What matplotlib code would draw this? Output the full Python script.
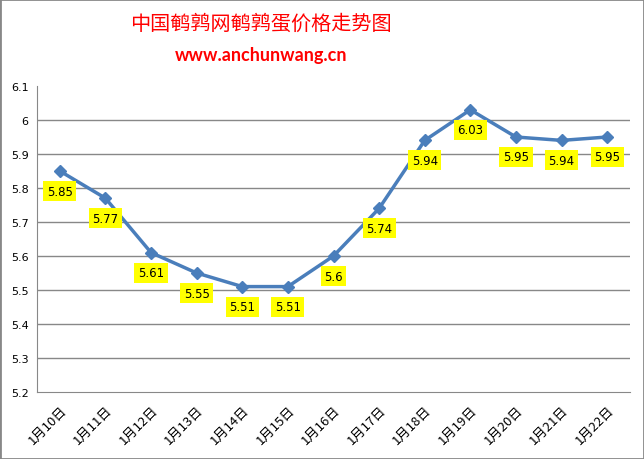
import matplotlib
matplotlib.use("Agg")
import matplotlib.pyplot as plt
from matplotlib.patches import Rectangle

plt.rcParams['font.family'] = ['Noto Sans CJK SC', 'DejaVu Sans']

dates = ["1月10日", "1月11日", "1月12日", "1月13日", "1月14日", "1月15日", "1月16日",
         "1月17日", "1月18日", "1月19日", "1月20日", "1月21日", "1月22日"]
prices = [5.85, 5.77, 5.61, 5.55, 5.51, 5.51, 5.6, 5.74, 5.94, 6.03, 5.95, 5.94, 5.95]
yticks = [5.2, 5.3, 5.4, 5.5, 5.6, 5.7, 5.8, 5.9, 6.0, 6.1]
ytick_labels = ["5.2", "5.3", "5.4", "5.5", "5.6", "5.7", "5.8", "5.9", "6", "6.1"]

fig = plt.figure(figsize=(6.44, 4.6), dpi=100)
fig.patches.append(Rectangle((0, 0), 1, 1, transform=fig.transFigure, fill=False,
                             edgecolor='#888888', linewidth=2))
ax = fig.add_axes([37/644, 1 - 393/460, (630-37)/644, (393-87)/460])

x = list(range(len(dates)))
ax.plot(x, prices, color='#4a7ebb', linewidth=2.5, marker='D', markersize=6, zorder=3)
for xi, p in zip(x, prices):
    ax.annotate(f"{p:g}", (xi, p), xytext=(0, -20), textcoords='offset pixels',
                ha='center', va='center', fontsize=8.5, family=['DejaVu Sans'],
                bbox=dict(boxstyle='square,pad=0.3', facecolor='#ffff00', edgecolor='none'), zorder=4)

ax.set_xlim(-0.5, 12.5)
ax.set_ylim(5.2, 6.1)
ax.set_yticks(yticks)
ax.set_yticklabels(ytick_labels, fontsize=8, family=['DejaVu Sans'])
ax.set_xticks(x)
ax.set_xticklabels(dates, rotation=45, ha='right', rotation_mode='anchor', fontsize=9.5)
ax.tick_params(axis='x', length=0, pad=8)
ax.tick_params(axis='y', length=0, pad=6)
for yv in yticks[1:-1]:
    ax.axhline(yv, color='#888888', linewidth=1, zorder=1)
for s in ['top', 'right']:
    ax.spines[s].set_visible(False)
ax.spines['left'].set_color('#888888')
ax.spines['bottom'].set_color('#888888')

fig.text(261/644, 1 - 24/460, "中国鹌鹑网鹌鹑蛋价格走势图", ha='center', va='center',
         color='#ff0000', fontsize=14.5)
fig.text(261/644, 1 - 55/460, "www.anchunwang.cn", ha='center', va='center',
         color='#ff0000', fontsize=13, fontweight='bold', family=['Lato', 'DejaVu Sans'])

fig.savefig("out.png", dpi=100)
